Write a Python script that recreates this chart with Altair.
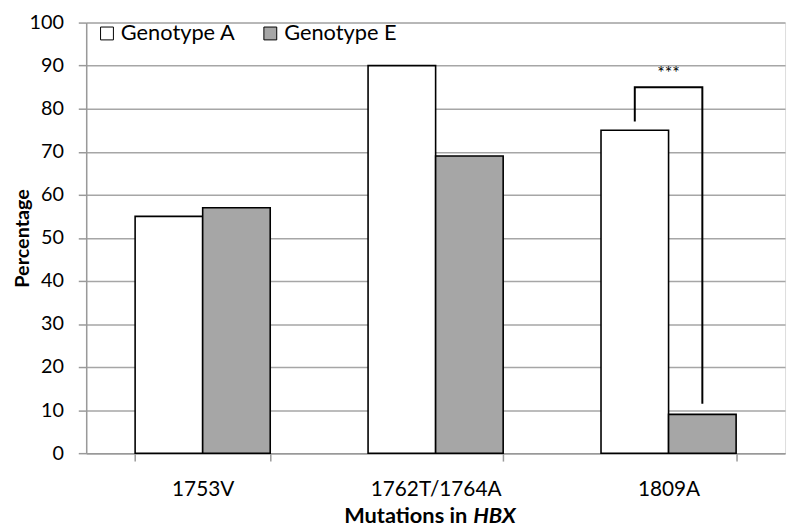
import altair as alt
import pandas as pd

categories = ["1753V", "1762T/1764A", "1809A"]
genotypes = ["Genotype A", "Genotype E"]
genotype_a = [55, 90, 75]
genotype_e = [57, 69, 9]

bracket_category = "1809A"
bracket_groups = ["Genotype A", "Genotype A", "Genotype E", "Genotype E"]
bracket_y = [77, 85, 85, 11.5]
stars_label = "***"
stars_y = 86

rows = []
for c, a, e in zip(categories, genotype_a, genotype_e):
    rows.append({"mutation": c, "genotype": genotypes[0], "pct": a})
    rows.append({"mutation": c, "genotype": genotypes[1], "pct": e})
df = pd.DataFrame(rows)

bracket_df = pd.DataFrame({
    "mutation": [bracket_category] * 4,
    "genotype": bracket_groups,
    "pct": bracket_y,
    "order": list(range(4)),
})
stars_df = pd.DataFrame({"mutation": [bracket_category], "pct": [stars_y], "label": [stars_label]})

FONT = "Lato"
PLOT_H = 435

x_enc = alt.X(
    "mutation:N",
    sort=categories,
    scale=alt.Scale(paddingInner=0.42, paddingOuter=0.21),
    axis=alt.Axis(
        title=None, labelAngle=0, tickBand="extent", labelFontSize=21, labelFont=FONT,
        labelColor="black", domainColor="#999999", domainWidth=1.5, tickColor="#999999",
        tickWidth=1.5, tickSize=8, labelPadding=18, grid=False,
    ),
)
xo_enc = alt.XOffset("genotype:N", sort=genotypes)
y_enc = alt.Y(
    "pct:Q",
    scale=alt.Scale(domain=[0, 100]),
    axis=alt.Axis(
        title="Percentage", titleFont=FONT, titleFontSize=20, titleFontWeight="bold",
        titleColor="black", titleX=-54, values=list(range(0, 101, 10)),
        labelFontSize=20, labelFont=FONT, labelColor="black", labelPadding=15,
        domainColor="#999999", domainWidth=1.5, tickColor="#999999", tickWidth=1.5,
        tickSize=8, grid=True, gridColor="#a6a6a6", gridWidth=1.5,
    ),
)

bars = alt.Chart(df).mark_bar(stroke="black", strokeWidth=1.6).encode(
    x=x_enc,
    xOffset=xo_enc,
    y=y_enc,
    fill=alt.Fill(
        "genotype:N",
        scale=alt.Scale(domain=genotypes, range=["white", "#a6a6a6"]),
        legend=alt.Legend(
            title=None, orient="none", legendX=10, legendY=0, direction="horizontal",
            symbolType="square", symbolSize=169, symbolStrokeColor="black",
            symbolStrokeWidth=1, labelFont=FONT, labelFontSize=22, labelColor="black",
            columnPadding=24, labelOffset=3,
        ),
    ),
)

bracket = alt.Chart(bracket_df).mark_line(color="black", strokeWidth=2).encode(
    x=alt.X("mutation:N", sort=categories),
    xOffset=alt.XOffset("genotype:N", sort=genotypes),
    y=alt.Y("pct:Q"),
    order="order:Q",
)

stars = alt.Chart(stars_df).mark_text(font=FONT, fontSize=18, baseline="bottom", color="black").encode(
    x=alt.X("mutation:N", sort=categories),
    y=alt.Y("pct:Q"),
    text="label:N",
)

title_main = alt.Chart(pd.DataFrame({"t": ["Mutations in"]})).mark_text(
    font=FONT, fontSize=22, fontWeight="bold", align="right", baseline="middle", color="black"
).encode(x=alt.value(385), y=alt.value(PLOT_H + 64), text="t:N")
title_ital = alt.Chart(pd.DataFrame({"t": ["HBX"]})).mark_text(
    font=FONT, fontSize=22, fontWeight="bold", fontStyle="italic", align="left",
    baseline="middle", color="black"
).encode(x=alt.value(391), y=alt.value(PLOT_H + 64), text="t:N")

chart = alt.layer(bars, bracket, stars, title_main, title_ital).properties(
    width=706, height=PLOT_H,
    autosize=alt.AutoSizeParams(type="none"),
    padding={"left": 79, "top": 12, "right": 4, "bottom": 86},
).configure_view(stroke=None).configure(background="white")

chart.save("out.html", embed_options={"renderer": "svg", "actions": False})
